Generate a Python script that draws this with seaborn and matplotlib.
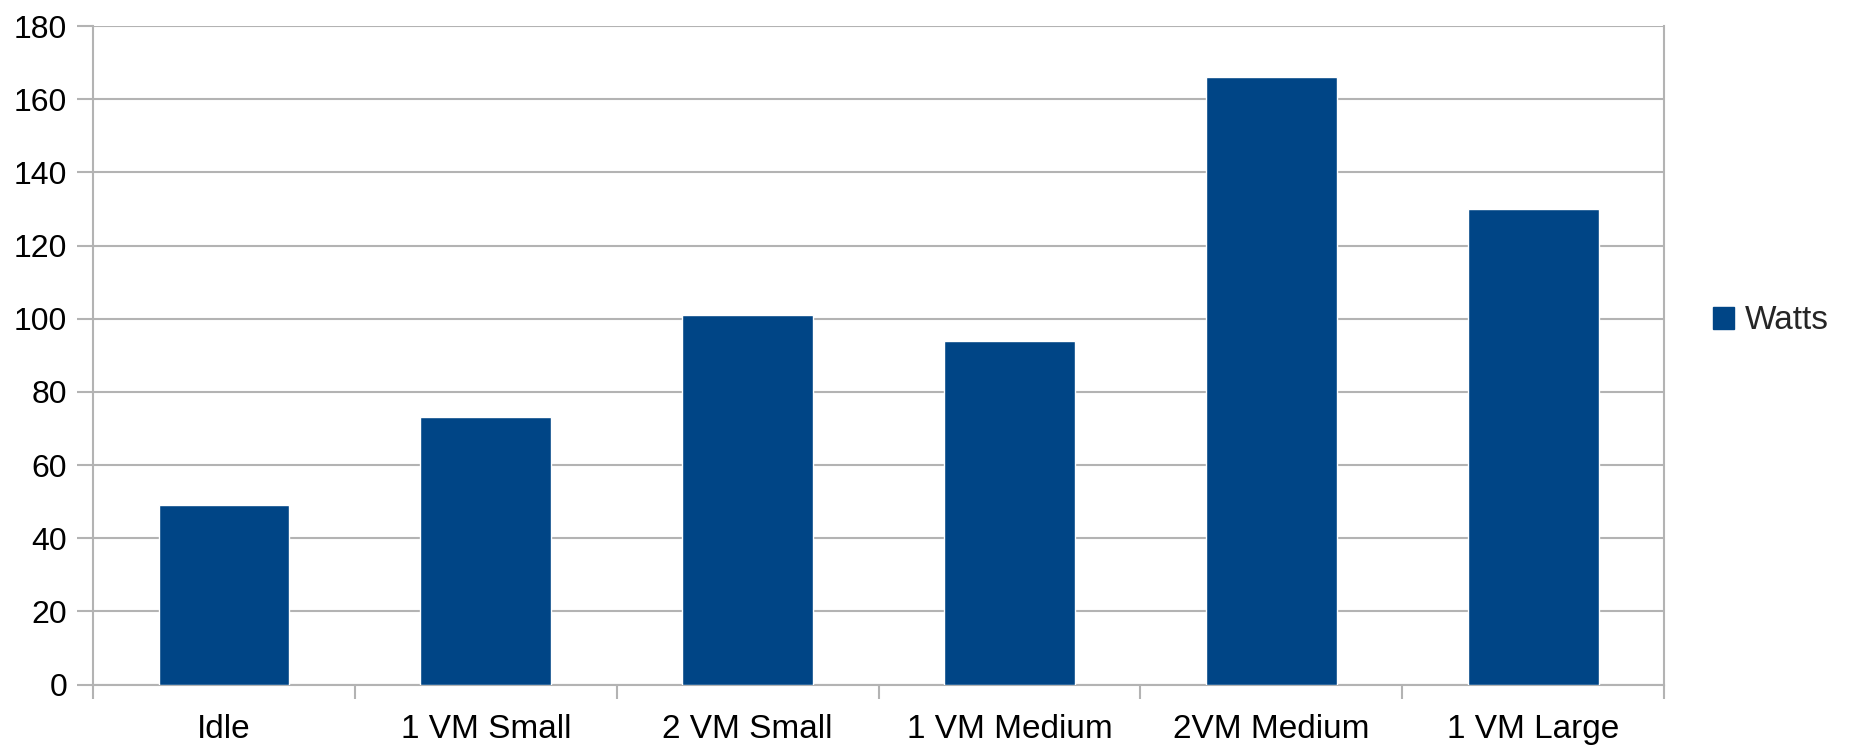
import matplotlib
matplotlib.use("Agg")
import matplotlib.pyplot as plt
import seaborn as sns
import pandas as pd
from matplotlib.patches import Patch

categories = ["Idle", "1 VM Small", "2 VM Small", "1 VM Medium", "2VM Medium", "1 VM Large"]
watts = [49, 73, 101, 94, 166, 130]
yticks = [0, 20, 40, 60, 80, 100, 120, 140, 160, 180]

sns.set_theme(style="white")
plt.rcParams['font.family'] = ['Liberation Sans', 'DejaVu Sans']

df = pd.DataFrame({"category": categories, "Watts": watts})

fig = plt.figure(figsize=(18.5, 7.46), dpi=100)
ax = fig.add_axes([0.0503, 0.0824, 0.8492, 0.8827])
color = "#004586"
grid_c = "#b3b3b3"
sns.barplot(data=df, x="category", y="Watts", color=color, width=0.5,
            saturation=1, ax=ax, zorder=3)
ax.set_ylim(0, 180)
ax.set_xlim(-0.5, len(categories) - 0.5)
ax.set_yticks(yticks)
ax.set_yticklabels([str(v) for v in yticks], fontsize=23, color="#000000")
ax.set_xlabel("")
ax.set_ylabel("")
ax.set_xticks(range(len(categories)))
ax.set_xticklabels(categories, fontsize=24, color="#000000")
ax.tick_params(axis='x', length=0, pad=21)
ax.tick_params(axis='y', length=11.5, width=1.5, color=grid_c, pad=7, left=True)
ax.set_xticks([i - 0.5 for i in range(len(categories) + 1)], minor=True)
ax.tick_params(axis='x', which='minor', length=10, width=1.5, color=grid_c, bottom=True)
ax.yaxis.grid(True, color=grid_c, linewidth=1.5, zorder=0)
ax.set_axisbelow(True)
for side in ["left", "right", "bottom"]:
    ax.spines[side].set_visible(True)
    ax.spines[side].set_color(grid_c)
    ax.spines[side].set_linewidth(1.5)
ax.spines["top"].set_visible(False)

handle = Patch(facecolor=color, edgecolor=color, label="Watts")
leg = fig.legend(handles=[handle], loc="center left", bbox_to_anchor=(1713 / 1850, 1 - 321 / 746),
                 frameon=False, fontsize=24, handlelength=0.64, handleheight=0.64,
                 handletextpad=0.33, borderpad=0, borderaxespad=0)

fig.savefig("out.png", dpi=100, facecolor="white")
